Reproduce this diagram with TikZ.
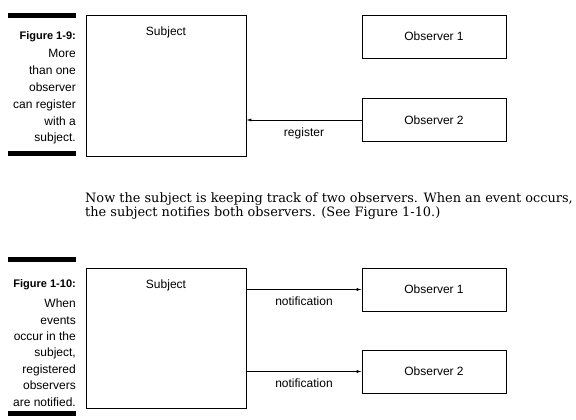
\documentclass[tikz,border=0pt]{standalone}
\usepackage{fontspec}
\setsansfont{Liberation Sans}
\newfontfamily\bodyfont{DejaVu Serif}
\usetikzlibrary{arrows.meta,positioning}

\tikzset{
  box/.style={draw, line width=0.6pt, inner sep=0pt, font=\sffamily\fontsize{12}{14}\selectfont},
  subjectbox/.style={box, minimum width=160pt, minimum height=141pt},
  obsbox/.style={box, minimum width=144pt, minimum height=43pt},
  msg/.style={line width=0.6pt, -{Latex[length=5pt,width=3pt]}},
  msglabel/.style={inner sep=0pt, font=\sffamily\fontsize{12}{14}\selectfont},
  caption/.style={anchor=north east, inner sep=0pt, align=right, font=\sffamily\fontsize{12}{16.6}\selectfont},
  bar/.style={fill=black}
}

\begin{document}
\begin{tikzpicture}[x=1pt,y=-1pt]
  \useasboundingbox (0,0) rectangle (576,420);

  % Figure 1-9
  \fill[bar] (8,13) rectangle (76,18);
  \fill[bar] (8,151) rectangle (76,156);
  \node[caption, font=\sffamily\fontsize{12}{16.8}\selectfont] (cap9) at (76,31) {\textbf{\fontsize{11}{14}\selectfont Figure 1-9:}\\[2pt]
    More\\than one\\observer\\can register\\with a\\subject.};
  \node[subjectbox] (subjA) at (166,85.5) {};
  \node[msglabel, anchor=base] (subjAlbl) at ([yshift=-21pt]subjA.north) {Subject};
  \node[obsbox] (obsA1) at (434,36.5) {Observer 1};
  \node[obsbox] (obsA2) at (434,120) {Observer 2};
  \draw[msg] (obsA2.west) -- (obsA2.west -| subjA.east)
    node[msglabel, midway, below=7.5pt] (regA) {register};

  % text between the figures
  \node[anchor=base west, inner sep=0pt, align=left, font=\bodyfont\fontsize{12.9}{14.5}\selectfont] (para) at (85,216.5)
    {Now the subject is keeping track of two observers. When an event occurs,\\
     the subject notifies both observers. (See Figure 1-10.)};

  % Figure 1-10
  \fill[bar] (8,257) rectangle (76,262);
  \fill[bar] (8,411) rectangle (76,416);
  \node[caption, font=\sffamily\fontsize{12}{16.4}\selectfont] (cap10) at (76,279.5) {\textbf{\fontsize{11}{14}\selectfont Figure 1-10:}\\[3.6pt]
    When\\events\\occur in the\\subject,\\registered\\observers\\are notified.};
  \node[subjectbox, minimum height=140pt] (subjB) at (166,338) {};
  \node[msglabel, anchor=base] (subjBlbl) at ([yshift=-21pt]subjB.north) {Subject};
  \node[obsbox] (obsB1) at (434,289.5) {Observer 1};
  \node[obsbox] (obsB2) at (434,371.5) {Observer 2};
  \draw[msg] (subjB.east |- obsB1.west) -- (obsB1.west)
    node[msglabel, midway, below=7pt] (notB1) {notification};
  \draw[msg] (subjB.east |- obsB2.west) -- (obsB2.west)
    node[msglabel, midway, below=7pt] (notB2) {notification};
\end{tikzpicture}
\end{document}
